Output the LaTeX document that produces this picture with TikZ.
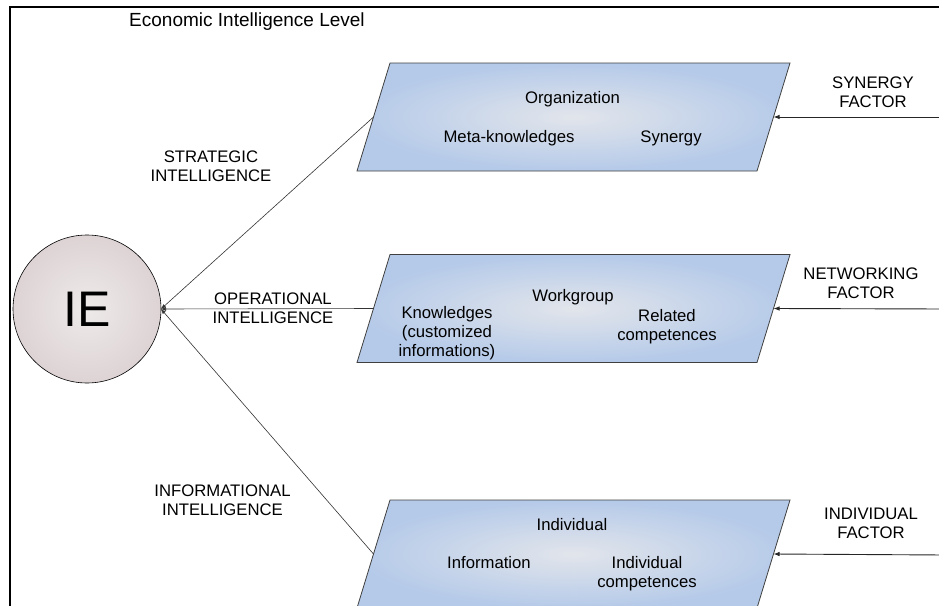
\documentclass[tikz,border=0pt]{standalone}
\usepackage{fontspec}
\setmainfont{Liberation Sans}
\usetikzlibrary{arrows.meta}
\usetikzlibrary{calc}
\tikzset{>={Latex[length=6pt,width=4.5pt]}}
\definecolor{boxedge}{HTML}{B5CAE9}
\definecolor{boxmid}{HTML}{E2E5EB}
\definecolor{ieedge}{HTML}{DDD3D4}
\definecolor{iemid}{HTML}{EEEAEA}
\tikzset{
  level box/.style={draw=black!75,line width=0.8pt,
                    shading=radial,inner color=boxmid,outer color=boxedge},
  txt/.style={font=\fontsize{16.7}{19}\selectfont,align=center,inner sep=0pt,anchor=base},
  link/.style={draw=black!80,line width=0.6pt,-{Latex[length=5pt,width=4pt]}},
  factor/.style={->,draw=black!85,line width=0.9pt}
}
\newcommand\levelBox[3]{% name, x, y
  \coordinate (#1) at (#2,#3);
  \path[level box] (#1) ++(-183.5,-54) -- ++(400,0) -- ++(-33,108) -- ++(-400,0) -- cycle;
  \coordinate (#1-left) at ($(#1)+(-200,0)$);
  \coordinate (#1-right) at ($(#1)+(200,0)$);
}
\begin{document}
\begin{tikzpicture}[x=1pt,y=-1pt]
  \useasboundingbox (0,0) rectangle (939,605);
  \clip (0,0) rectangle (939,605);
  
  % FRAME
  \draw[line width=2pt] (10,620) -- (10,6.5) -- (950,6.5);
  \node[txt,font=\fontsize{19}{22}\selectfont] (title) at (247,27) {Economic Intelligence Level};
  
  % IE
  \node[circle,minimum size=148pt,inner sep=0pt,outer sep=0pt,draw=black,line width=0.6pt,
        shading=radial,inner color=iemid,outer color=ieedge,
        font=\fontsize{50}{50}\selectfont] (IE) at (87,309) {IE};
  
  % LEVELS (base = last line)
  \levelBox{strat}{573.5}{117}
  \levelBox{oper}{573.5}{308.5}
  \levelBox{info}{573.5}{554}
  
  \node[txt] (org) at (572.5,103) {Organization};
  \node[txt] (meta) at (509,142) {Meta-knowledges};
  \node[txt] (syn) at (671,142) {Synergy};
  
  \node[txt] (work) at (573,301) {Workgroup};
  \node[txt] (know) at (447,356) {Knowledges\\(customized\\informations)};
  \node[txt] (rel) at (667,340) {Related\\competences};
  
  \node[txt] (indiv) at (572,530) {Individual};
  \node[txt] (infor) at (489,568) {Information};
  \node[txt] (comp) at (647,587) {Individual\\competences};
  
  % INTELLIGENCE LABELS
  \node[txt] (stratlab) at (211,181) {STRATEGIC\\INTELLIGENCE};
  \node[txt] (operlab) at (273,323) {OPERATIONAL\\INTELLIGENCE};
  \node[txt] (infolab) at (222.5,515) {INFORMATIONAL\\INTELLIGENCE};
  
  % FACTORS
  \node[txt] (synf) at (873,107) {SYNERGY\\FACTOR};
  \node[txt] (netf) at (861,298) {NETWORKING\\FACTOR};
  \node[txt] (indf) at (871,538) {INDIVIDUAL\\FACTOR};
  \coordinate (synin) at (945,117);
  \coordinate (netin) at (945,309);
  \coordinate (indin) at (945,555);
  
  % LINES
  \draw[link] (strat-left) -- (IE.east);
  \draw[link] (oper-left) -- (IE.east);
  \draw[link] (info-left) -- (IE.east);
  \draw[factor] (synin) -- (strat-right);
  \draw[factor] (netin) -- (oper-right);
  \draw[factor] (indin) -- (info-right);
  
\end{tikzpicture}
\end{document}
